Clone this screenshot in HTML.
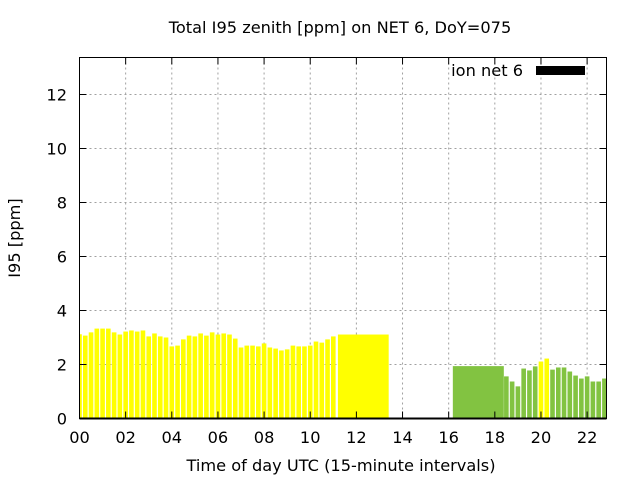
<!DOCTYPE html>
<html><head><meta charset="utf-8"><style>
html,body{margin:0;padding:0;background:#fff;}
svg{display:block;font-family:"DejaVu Sans","Liberation Sans",sans-serif;}
</style></head><body>
<svg id="chart" width="640" height="480" viewBox="0 0 640 480">
<text x="340" y="33" text-anchor="middle" font-size="16.2">Total I95 zenith [ppm] on NET 6, DoY=075</text>
<text x="341" y="471" text-anchor="middle" font-size="16.2">Time of day UTC (15-minute intervals)</text>
<text transform="translate(20,238) rotate(-90)" text-anchor="middle" font-size="16.2">I95 [ppm]</text>
<g id="grid"></g><g id="bars"></g><g id="axes"></g>
<g>
<text x="523" y="76" text-anchor="end" font-size="16.2">ion net 6</text>
<rect x="536" y="66" width="49" height="9" fill="#000"/>
</g>
</svg>
<script>
const yellowValues=[3.12,3.07,3.19,3.33,3.33,3.33,3.19,3.11,3.22,3.26,3.22,3.26,3.04,3.15,3.04,3.0,2.67,2.70,2.93,3.07,3.04,3.15,3.07,3.19,3.11,3.15,3.11,2.96,2.63,2.70,2.70,2.67,2.78,2.63,2.59,2.52,2.56,2.70,2.67,2.67,2.70,2.85,2.81,2.93,3.04];
const lateStart=18.5;
const lateValues=[1.56,1.37,1.19,1.85,1.78,1.93,2.11,2.22,1.81,1.89,1.89,1.74,1.59,1.48,1.56,1.37,1.37,1.48];
const lateColors=["g","g","g","g","g","g","y","y","g","g","g","g","g","g","g","g","g","g"];
const blockStarts=[11.2,16.18];
const blockEnds=[13.4,18.39];
const blockValues=[3.11,1.94];
const blockColors=["y","g"];
const xTicks=[0,2,4,6,8,10,12,14,16,18,20,22];
const xTickLabels=["00","02","04","06","08","10","12","14","16","18","20","22"];
const yTicks=[0,2,4,6,8,10,12];
const L=79.5,R=606.5,T=57.5,B=418.5,XMAX=22.84,YMAX=13.37;
const sx=h=>L+(R-L)*h/XMAX, sy=v=>B-(B-T)*v/YMAX;
const COL={y:"#ffff00",g:"#82c341"};
const NS="http://www.w3.org/2000/svg";
function mk(tag,attrs,parent){const e=document.createElementNS(NS,tag);for(const k in attrs)e.setAttribute(k,attrs[k]);parent.appendChild(e);return e;}
const grid=document.getElementById('grid'),bars=document.getElementById('bars'),axes=document.getElementById('axes');
mk('clipPath',{id:'pc'},bars).appendChild(document.createElementNS(NS,'rect'));
const cr=bars.querySelector('clipPath rect');cr.setAttribute('x',L);cr.setAttribute('y',T);cr.setAttribute('width',R-L);cr.setAttribute('height',B-T);
bars.setAttribute('clip-path','url(#pc)');
xTicks.forEach((t,i)=>{const x=sx(t);
 if(t>0){const g=mk('line',{x1:x,x2:x,y1:T,y2:B,stroke:'#a0a0a0','stroke-dasharray':'2,3'},grid);}
 mk('line',{x1:x,x2:x,y1:B,y2:B-7,stroke:'#000'},axes);mk('line',{x1:x,x2:x,y1:T,y2:T+7,stroke:'#000'},axes);
 const tx=mk('text',{x:x,y:443,'text-anchor':'middle','font-size':'16.2'},axes);tx.textContent=xTickLabels[i];
 });
yTicks.forEach(v=>{const y=sy(v);
 if(v>0){const g=mk('line',{x1:L,x2:R,y1:y,y2:y,stroke:'#a0a0a0','stroke-dasharray':'2,3'},grid);}
 mk('line',{x1:L,x2:L+7,y1:y,y2:y,stroke:'#000'},axes);mk('line',{x1:R,x2:R-7,y1:y,y2:y,stroke:'#000'},axes);
 const tx=mk('text',{x:67,y:y+6,'text-anchor':'end','font-size':'16.2'},axes);tx.textContent=v;
 });
const bw=(sx(0.25)-sx(0))*0.8;
function bar(h,v,c){const x=sx(h);const r=mk('rect',{x:x-bw/2,y:sy(v),width:bw,height:B-sy(v),fill:COL[c]},bars);
 
 }
yellowValues.forEach((v,i)=>bar(i*0.25,v,'y'));
lateValues.forEach((v,i)=>bar(lateStart+i*0.25,v,lateColors[i]));
blockStarts.forEach((s,i)=>{const r=mk('rect',{x:sx(s),y:sy(blockValues[i]),width:sx(blockEnds[i])-sx(s),height:B-sy(blockValues[i]),fill:COL[blockColors[i]]},bars);
 
 });
const fr=mk('rect',{x:L,y:T,width:R-L,height:B-T,fill:'none',stroke:'#000','stroke-width':1},axes);


mk('line',{x1:L,x2:R,y1:B,y2:B,stroke:'#000','stroke-width':2},axes);
</script>
</body></html>
